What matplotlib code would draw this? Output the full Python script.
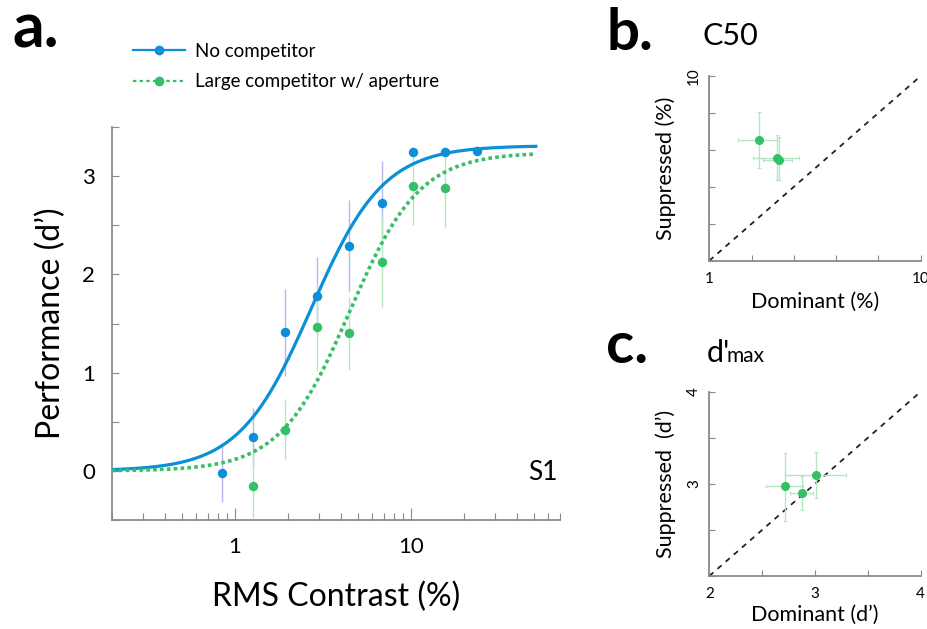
import numpy as np
import matplotlib
matplotlib.use('Agg')
import matplotlib.pyplot as plt
from matplotlib.lines import Line2D

plt.rcParams['font.family'] = ['Lato', 'DejaVu Sans']

# ---------------- data ----------------
# Panel a: contrast (%) vs performance (d')
contrast_blue = [0.84, 1.27, 1.92, 2.93, 4.45, 6.79, 10.2, 15.6, 23.6]
dprime_blue = [-0.02, 0.34, 1.41, 1.78, 2.29, 2.73, 3.25, 3.25, 3.26]
err_blue = [0.30, 0.30, 0.44, 0.40, 0.47, 0.42, 0.05, 0.05, 0.05]

contrast_green = [1.27, 1.92, 2.93, 4.45, 6.79, 10.2, 15.6]
dprime_green = [-0.15, 0.42, 1.46, 1.40, 2.13, 2.90, 2.88]
err_green = [0.33, 0.30, 0.44, 0.37, 0.46, 0.40, 0.41]

# Naka-Rushton fit parameters (dmax, c50, n)
fit_blue = (3.31, 2.71, 2.12)
fit_green = (3.24, 4.47, 2.19)
fit_range = (0.2, 51.0)

legend_labels = ['No competitor', 'Large competitor w/ aperture']

# Panel b: C50 dominant vs suppressed (%)
c50_dom = [1.72, 2.10, 2.14]
c50_sup = [4.50, 3.58, 3.52]
c50_dom_lo = [1.37, 1.61, 1.80]
c50_dom_hi = [2.08, 2.67, 2.45]
c50_sup_lo = [3.16, 2.73, 2.75]
c50_sup_hi = [6.41, 4.79, 4.70]

# Panel c: d'max dominant vs suppressed
dmax_dom = [2.72, 2.88, 3.01]
dmax_sup = [2.976, 2.897, 3.10]
dmax_dom_lo = [2.54, 2.76, 2.72]
dmax_dom_hi = [2.89, 2.98, 3.29]
dmax_sup_lo = [2.60, 2.72, 2.85]
dmax_sup_hi = [3.34, 3.09, 3.35]

# ---------------- style ----------------
BLUE = '#0b8fd6'
GREEN = '#35bf66'
BLUE_ERR = '#b8b8ee'
GREEN_ERR = '#b4e6c4'
SPINE = '#8a8a8a'

fig = plt.figure(figsize=(9.28, 6.29), dpi=100)


def style_axes(ax):
    for s in ['top', 'right']:
        ax.spines[s].set_visible(False)
    for s in ['left', 'bottom']:
        ax.spines[s].set_color(SPINE)
        ax.spines[s].set_linewidth(1.3)
    ax.tick_params(which='both', direction='in', color=SPINE, width=0.8)


def naka(c, dmax, c50, n):
    c = np.asarray(c)
    return dmax * c ** n / (c ** n + c50 ** n)


# ---------------- panel a ----------------
ax = fig.add_axes([112 / 928, 1 - 520 / 629, (560 - 112) / 928, (520 - 127) / 629])
style_axes(ax)
ax.set_xscale('log')
ax.set_xlim(0.2, 70)
ax.set_ylim(-0.5, 3.5)

cc = np.logspace(np.log10(fit_range[0]), np.log10(fit_range[1]), 400)
ax.errorbar(contrast_blue, dprime_blue, yerr=err_blue, fmt='none',
            ecolor=BLUE_ERR, elinewidth=1.0, zorder=1)
ax.errorbar(contrast_green, dprime_green, yerr=err_green, fmt='none',
            ecolor=GREEN_ERR, elinewidth=1.0, zorder=1)
ax.plot(cc, naka(cc, *fit_blue), color=BLUE, lw=2.3, zorder=3)
ax.plot(cc, naka(cc, *fit_green), color=GREEN, lw=2.6,
        linestyle=(0, (1.0, 0.9)), zorder=3)
ax.plot(contrast_blue, dprime_blue, 'o', color=BLUE, ms=6.8, mec='none', zorder=4)
ax.plot(contrast_green, dprime_green, 'o', color=GREEN, ms=6.8, mec='none', zorder=4)

ax.set_yticks([-0.5, 0, 0.5, 1, 1.5, 2, 2.5, 3, 3.5])
ax.set_yticklabels(['', '0', '', '1', '', '2', '', '3', ''])
ax.tick_params(axis='y', length=5, labelsize=16, pad=12)
ax.set_xticks([1, 10])
ax.set_xticklabels(['1', '10'])
ax.xaxis.set_minor_locator(matplotlib.ticker.LogLocator(base=10, subs=np.arange(2, 10), numticks=20))
ax.xaxis.set_minor_formatter(matplotlib.ticker.NullFormatter())
ax.tick_params(axis='x', which='major', length=9, labelsize=16, pad=12)
ax.tick_params(axis='x', which='minor', length=5)
ax.set_xlabel('RMS Contrast (%)', fontsize=23, labelpad=18)
ax.set_ylabel("Performance (d\u2019)", fontsize=23, labelpad=12)
ax.text(0.995, 0.12, 'S1', transform=ax.transAxes, ha='right', va='center', fontsize=19)

handles = [Line2D([], [], color=BLUE, lw=1.6, marker='o', ms=7, mec='none'),
           Line2D([], [], color=GREEN, lw=1.6, ls=(0, (1.5, 1.5)), marker='o', ms=7, mec='none')]
fig.legend(handles, legend_labels, loc='upper left', bbox_to_anchor=(133 / 928, 1 - 43 / 629),
           frameon=False, fontsize=13.5, handlelength=2.75, handletextpad=0.55,
           labelspacing=0.72, borderpad=0, borderaxespad=0)

fig.text(13 / 928, 1 - 48 / 629, 'a.', fontsize=45, fontweight='bold', ha='left', va='baseline')

# ---------------- panel b ----------------
axb = fig.add_axes([709.3 / 928, 1 - 260.7 / 629, (920.7 - 709.3) / 928, (260.7 - 76) / 629])
style_axes(axb)
axb.set_xscale('log')
axb.set_yscale('log')
axb.set_xlim(1, 10)
axb.set_ylim(1, 10)
axb.plot([1, 10], [1, 10], color='#222222', lw=1.3, ls=(0, (3, 3)), zorder=1)
xe = [np.array(c50_dom) - np.array(c50_dom_lo), np.array(c50_dom_hi) - np.array(c50_dom)]
ye = [np.array(c50_sup) - np.array(c50_sup_lo), np.array(c50_sup_hi) - np.array(c50_sup)]
axb.errorbar(c50_dom, c50_sup, xerr=xe, yerr=ye, fmt='none', ecolor=GREEN_ERR,
             elinewidth=1.0, capsize=1.5, capthick=0.8, zorder=2)
axb.plot(c50_dom, c50_sup, 'o', color=GREEN, ms=6.5, mec='none', zorder=3)
ticks_b = 10 ** np.linspace(0, 1, 6)
axb.xaxis.set_minor_locator(matplotlib.ticker.NullLocator())
axb.yaxis.set_minor_locator(matplotlib.ticker.NullLocator())
axb.set_xticks(ticks_b)
axb.set_xticklabels(['1', '', '', '', '', '10'])
axb.set_yticks(ticks_b)
axb.set_yticklabels(['', '', '', '', '', '10'], rotation=90, va='center')
axb.tick_params(which='both', length=4, labelsize=11)
axb.tick_params(axis='x', pad=8)
axb.tick_params(axis='y', pad=6)
axb.set_xlabel('Dominant (%)', fontsize=15.5, labelpad=4)
axb.set_ylabel('Suppressed (%)', fontsize=15.5, labelpad=8)
fig.text(606 / 928, 1 - 50 / 629, 'b.', fontsize=42, fontweight='bold', ha='left', va='baseline')
fig.text(703 / 928, 1 - 45 / 629, 'C50', fontsize=22, ha='left', va='baseline')

# ---------------- panel c ----------------
axc = fig.add_axes([709.3 / 928, 1 - 576 / 629, (920.7 - 709.3) / 928, (576 - 391.7) / 629])
style_axes(axc)
axc.set_xlim(2, 4)
axc.set_ylim(2, 4)
axc.plot([2, 4], [2, 4], color='#222222', lw=1.3, ls=(0, (3, 3)), zorder=1)
xe = [np.array(dmax_dom) - np.array(dmax_dom_lo), np.array(dmax_dom_hi) - np.array(dmax_dom)]
ye = [np.array(dmax_sup) - np.array(dmax_sup_lo), np.array(dmax_sup_hi) - np.array(dmax_sup)]
axc.errorbar(dmax_dom, dmax_sup, xerr=xe, yerr=ye, fmt='none', ecolor=GREEN_ERR,
             elinewidth=1.0, capsize=1.5, capthick=0.8, zorder=2)
axc.plot(dmax_dom, dmax_sup, 'o', color=GREEN, ms=6.5, mec='none', zorder=3)
axc.set_xticks([2, 2.5, 3, 3.5, 4])
axc.set_xticklabels(['2', '', '3', '', '4'])
axc.set_yticks([2, 2.5, 3, 3.5, 4])
axc.set_yticklabels(['', '', '3', '', '4'], rotation=90, va='center')
axc.tick_params(which='both', length=4, labelsize=11)
axc.tick_params(axis='x', pad=8)
axc.tick_params(axis='y', pad=6)
axc.set_xlabel("Dominant (d\u2019)", fontsize=15.5, labelpad=3)
axc.set_ylabel("Suppressed  (d\u2019)", fontsize=15.5, labelpad=8)
fig.text(606 / 928, 1 - 363 / 629, 'c.', fontsize=42, fontweight='bold', ha='left', va='baseline')
fig.text(707 / 928, 1 - 362 / 629, "d'", fontsize=22, ha='left', va='baseline')
fig.text(727 / 928, 1 - 362 / 629, 'max', fontsize=15, ha='left', va='baseline')

fig.savefig('out.png', dpi=100)
